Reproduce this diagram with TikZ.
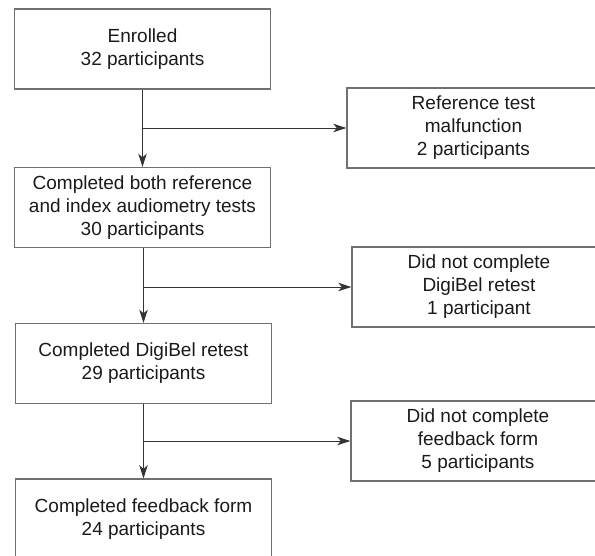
\documentclass[tikz,border=0pt]{standalone}
\usepackage{fontspec}
\setmainfont{Liberation Sans}
\usetikzlibrary{arrows.meta}

\definecolor{framegray}{HTML}{707070}
\definecolor{linegray}{HTML}{333333}
\definecolor{textgray}{HTML}{1A1A1A}

\begin{document}
\begin{tikzpicture}[x = 1pt, y = -1pt,
	box/.style = {draw = framegray, line width = 1.4pt, align = center, inner sep = 0pt,
		text = textgray, font = \fontsize{19}{23}\selectfont, minimum height = 80pt},
	flow/.style = {draw = linegray, line width = 0.9pt, -{Stealth[length = 13pt, width = 8.5pt, inset = 3.5pt]}}]
	\useasboundingbox (0, 0) rectangle (595, 555);
	\clip (0, 0) rectangle (595, 555);
	
	\node[box, minimum width = 256pt] (enrolled) at (142.5, 49) {Enrolled\\32 participants};
	\node[box, minimum width = 256pt] (both) at (142.5, 207.5) {Completed both reference\\and index audiometry tests\\30 participants};
	\node[box, minimum width = 256pt] (retest) at (143.5, 363.5) {Completed DigiBel retest\\29 participants};
	\node[box, minimum width = 256pt] (feedback) at (143.5, 519) {Completed feedback form\\24 participants};
	
	\node[box, minimum width = 253pt] (malfunc) at (473.5, 128) {Reference test\\malfunction\\2 participants};
	\node[box, minimum width = 254pt] (noretest) at (479, 287) {Did not complete\\DigiBel retest\\1 participant};
	\node[box, minimum width = 254pt] (nofeedback) at (478, 441) {Did not complete\\feedback form\\5 participants};
	
	\coordinate (split1) at (enrolled.south |- malfunc.west);
	\coordinate (split2) at (retest.north |- noretest.west);
	\coordinate (split3) at (retest.south |- nofeedback.west);
	
	\draw[flow] (enrolled) -- (both);
	\draw[flow] (both.south -| retest.north) -- (retest);
	\draw[flow] (retest) -- (feedback);
	\draw[flow] (split1) -- (malfunc);
	\draw[flow] (split2) -- (noretest);
	\draw[flow] (split3) -- (nofeedback);
\end{tikzpicture}
\end{document}
